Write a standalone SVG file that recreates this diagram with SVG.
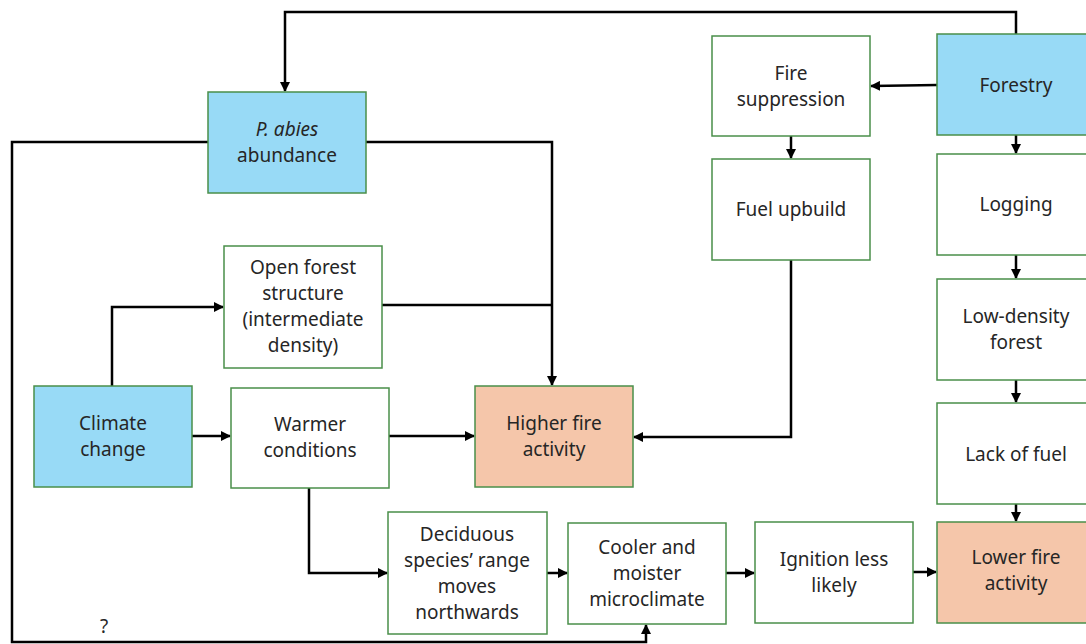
<svg xmlns="http://www.w3.org/2000/svg" width="1086" height="644" viewBox="0 0 1086 644">
<style>
.b{stroke:#4a8f4a;stroke-width:1.5}
.w{fill:#ffffff}
.blue{fill:#98daf6}
.or{fill:#f5c6aa}
text{font-family:"Noto Sans","Liberation Sans",sans-serif;font-size:19px;fill:#262626;text-anchor:middle}
.c{fill:none;stroke:#000;stroke-width:2.5}
</style>
<defs>
<marker id="ah" viewBox="0 0 10 10" refX="9" refY="5" markerWidth="4" markerHeight="4" orient="auto" markerUnits="strokeWidth">
<path d="M0,0 L10,5 L0,10 Z" fill="#000"/>
</marker>
</defs>
<rect width="1086" height="644" fill="#fff"/>
<g id="connectors">
<path class="c" d="M1016,34 V12 H285 V91" marker-end="url(#ah)"/>
<path class="c" d="M937,85 L871,86" marker-end="url(#ah)"/>
<path class="c" d="M791,136 V158" marker-end="url(#ah)"/>
<path class="c" d="M791,260 V437 H634" marker-end="url(#ah)"/>
<path class="c" d="M1016,135 V153" marker-end="url(#ah)"/>
<path class="c" d="M1016,255 V278" marker-end="url(#ah)"/>
<path class="c" d="M1016,380 V402" marker-end="url(#ah)"/>
<path class="c" d="M1016,504 V521" marker-end="url(#ah)"/>
<path class="c" d="M366,142 H552 V385" marker-end="url(#ah)"/>
<path class="c" d="M382,305 H552"/>
<path class="c" d="M112,386 V307 H223" marker-end="url(#ah)"/>
<path class="c" d="M192,436 H230" marker-end="url(#ah)"/>
<path class="c" d="M389,436 H474" marker-end="url(#ah)"/>
<path class="c" d="M309,488 V573 H387" marker-end="url(#ah)"/>
<path class="c" d="M547,573 H567" marker-end="url(#ah)"/>
<path class="c" d="M726,573 H754" marker-end="url(#ah)"/>
<path class="c" d="M913,572 H936" marker-end="url(#ah)"/>
<path class="c" d="M208,142 H12 V642 H646 V625" marker-end="url(#ah)"/>
</g>
<g id="pabies"><rect class="b blue" x="208" y="92" width="158" height="101"/><text x="287" y="136"><tspan font-style="italic">P. abies</tspan></text><text x="287" y="162">abundance</text></g>
<g id="forestry"><rect class="b blue" x="937" y="34" width="160" height="101"/><text x="1016" y="92">Forestry</text></g>
<g id="firesupp"><rect class="b w" x="712" y="36" width="158" height="100"/><text x="791" y="80">Fire</text><text x="791" y="106">suppression</text></g>
<g id="fuel"><rect class="b w" x="712" y="159" width="158" height="101"/><text x="791" y="216">Fuel upbuild</text></g>
<g id="logging"><rect class="b w" x="937" y="154" width="160" height="101"/><text x="1016" y="211">Logging</text></g>
<g id="lowdensity"><rect class="b w" x="937" y="279" width="160" height="101"/><text x="1016" y="323">Low-density</text><text x="1016" y="349">forest</text></g>
<g id="lackfuel"><rect class="b w" x="937" y="403" width="160" height="101"/><text x="1016" y="461">Lack of fuel</text></g>
<g id="lowerfire"><rect class="b or" x="937" y="522" width="160" height="101"/><text x="1016" y="564">Lower fire</text><text x="1016" y="590">activity</text></g>
<g id="openforest"><rect class="b w" x="224" y="246" width="158" height="122"/><text x="303" y="274">Open forest</text><text x="303" y="300">structure</text><text x="303" y="326">(intermediate</text><text x="303" y="352">density)</text></g>
<g id="climate"><rect class="b blue" x="34" y="386" width="158" height="101"/><text x="113" y="430">Climate</text><text x="113" y="456">change</text></g>
<g id="warmer"><rect class="b w" x="231" y="388" width="158" height="100"/><text x="310" y="431">Warmer</text><text x="310" y="457">conditions</text></g>
<g id="higherfire"><rect class="b or" x="475" y="386" width="158" height="101"/><text x="554" y="430">Higher fire</text><text x="554" y="456">activity</text></g>
<g id="deciduous"><rect class="b w" x="388" y="512" width="159" height="122"/><text x="467" y="541">Deciduous</text><text x="467" y="567">species’ range</text><text x="467" y="593">moves</text><text x="467" y="619">northwards</text></g>
<g id="cooler"><rect class="b w" x="568" y="523" width="158" height="101"/><text x="647" y="554">Cooler and</text><text x="647" y="580">moister</text><text x="647" y="606">microclimate</text></g>
<g id="ignition"><rect class="b w" x="755" y="522" width="158" height="101"/><text x="834" y="566">Ignition less</text><text x="834" y="592">likely</text></g>
<text x="104" y="633">?</text>
</svg>
